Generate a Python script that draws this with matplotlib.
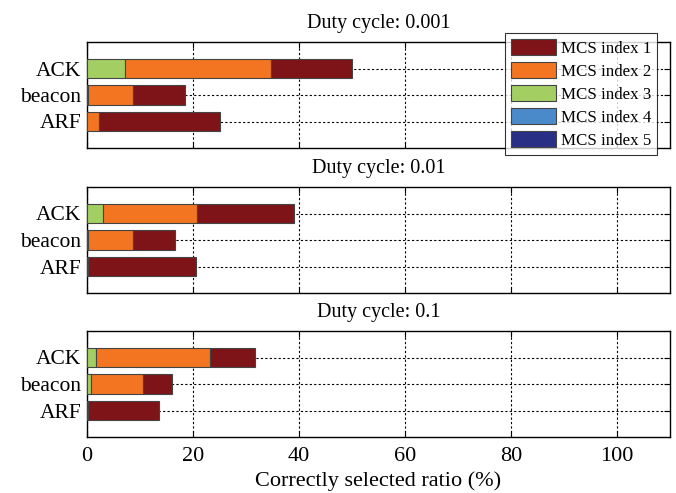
import matplotlib
matplotlib.use('Agg')
import matplotlib.pyplot as plt
import numpy as np

plt.rcParams['font.family'] = ['Liberation Serif', 'DejaVu Serif']
fontsize = 16

# data: segment widths (%) per MCS index, one list per panel, order ACK, beacon, ARF
frames = ['ACK', 'beacon', 'ARF']
duty_cycles = ['0.001', '0.01', '0.1']
mcs_labels = ['MCS index 1', 'MCS index 2', 'MCS index 3', 'MCS index 4', 'MCS index 5']
mcs_colors = ['#7f1418', '#f37521', '#a3cf62', '#4a8acb', '#2a2f86']

mcs1 = [[15.3, 9.8, 22.8], [18.2, 7.9, 20.4], [8.4, 5.4, 13.4]]
mcs2 = [[27.5, 8.5, 2.3], [17.8, 8.5, 0.2], [21.6, 9.9, 0.2]]
mcs3 = [[7.3, 0.2, 0.0], [3.0, 0.2, 0.0], [1.7, 0.8, 0.0]]
mcs4 = [[0.0, 0.0, 0.0], [0.0, 0.0, 0.0], [0.0, 0.0, 0.0]]
mcs5 = [[0.0, 0.0, 0.0], [0.0, 0.0, 0.0], [0.0, 0.0, 0.0]]

xticks = [0, 20, 40, 60, 80, 100]

fig = plt.figure(figsize=(6.76, 4.93), dpi=100)
W, H = 676.0, 493.0
ax_left, ax_right = 86.7, 670.0
ax_tops = [42, 187, 331]
ax_h = 106

# stacked from left: MCS5, MCS4, MCS3, MCS2, MCS1
stack = [mcs5, mcs4, mcs3, mcs2, mcs1]
stack_colors = mcs_colors[::-1]
stack_labels = mcs_labels[::-1]

ypos = np.array([3, 2, 1])
handles = {}
for i, dc in enumerate(duty_cycles):
    top = ax_tops[i]
    ax = fig.add_axes([ax_left / W, 1 - (top + ax_h) / H, (ax_right - ax_left) / W, ax_h / H])
    left = np.zeros(len(frames))
    for series, col, lab in zip(stack, stack_colors, stack_labels):
        vals = np.array(series[i])
        h = ax.barh(ypos, vals, left=left, height=0.72, color=col,
                    edgecolor='#444444', linewidth=0.8, label=lab, zorder=3)
        handles[lab] = h
        left += vals
    ax.set_xlim(0, 110)
    ax.set_ylim(0, 4)
    ax.set_yticks(ypos)
    ax.set_yticklabels(frames, fontsize=15.5)
    ax.set_xticks(xticks)
    if i == 2:
        ax.set_xticklabels([str(x) for x in xticks], fontsize=fontsize)
        ax.set_xlabel('Correctly selected ratio (%)', fontsize=fontsize, labelpad=4)
    else:
        ax.set_xticklabels([])
    ax.grid(True, color='black', linestyle=(0, (2, 2)), linewidth=0.8, zorder=0)
    ax.tick_params(axis='y', direction='in', right=True, length=4, width=0.8, pad=4)
    ax.tick_params(axis='x', direction='in', top=True, length=4, width=0.8, pad=7)
    for s in ax.spines.values():
        s.set_linewidth(1.0)
    ax.set_title('Duty cycle: ' + dc, fontsize=14.5, pad=10)

leg = fig.legend([handles[l] for l in mcs_labels], mcs_labels,
                 loc='upper right', bbox_to_anchor=(657 / W, 1 - 33 / H),
                 fontsize=12.2, frameon=True, fancybox=False,
                 handlelength=2.7, handleheight=1.1, labelspacing=0.3,
                 handletextpad=0.25, borderpad=0.35, borderaxespad=0)
leg.get_frame().set_edgecolor('black')
leg.get_frame().set_linewidth(0.8)

fig.savefig('out.png', dpi=100)
